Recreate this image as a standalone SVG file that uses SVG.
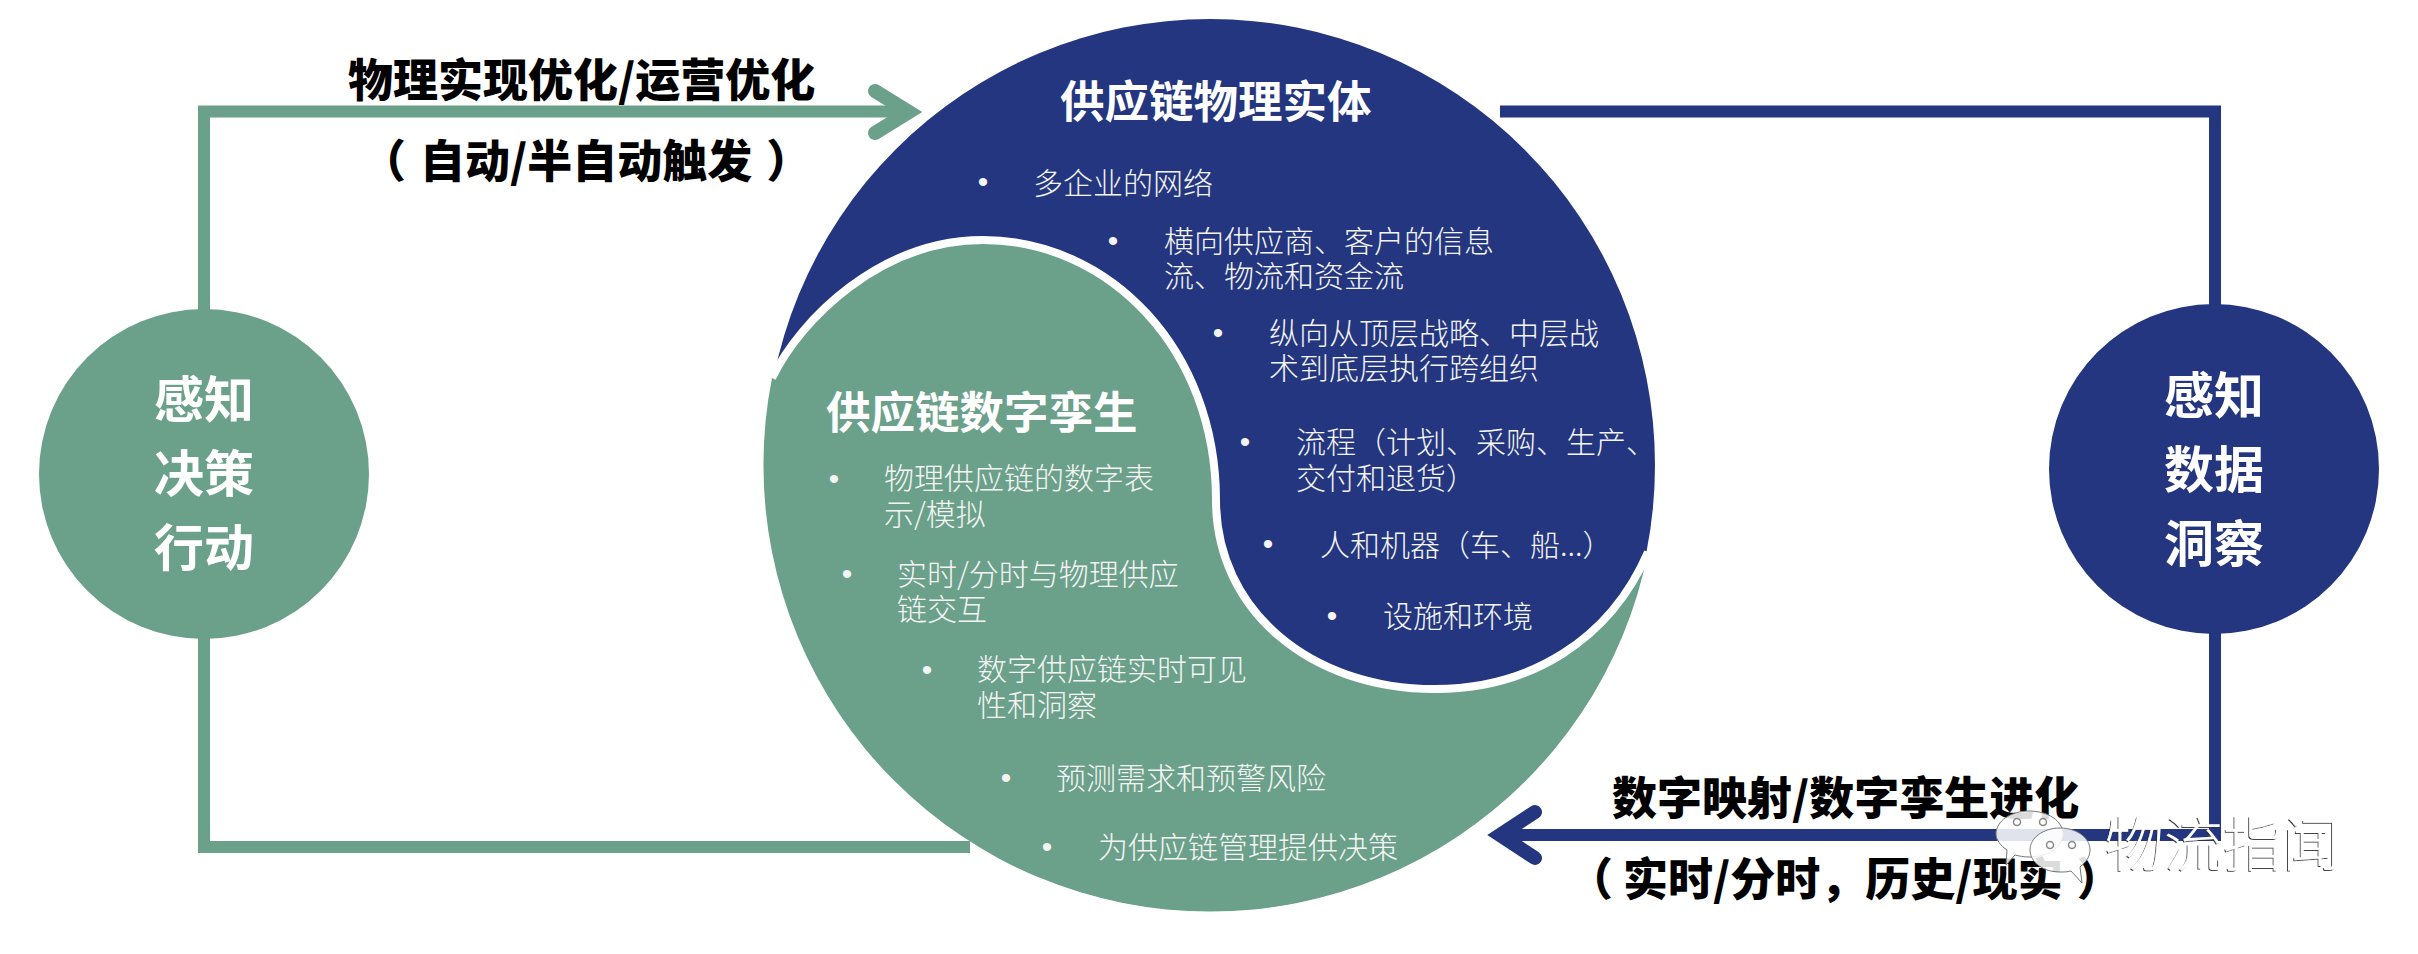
<svg xmlns="http://www.w3.org/2000/svg" width="2418" height="954" viewBox="0 0 2418 954">
<defs>
<filter id="wm" x="-5%" y="-5%" width="110%" height="110%"><feDropShadow dx="-1" dy="1" stdDeviation="0.5" flood-color="#333" flood-opacity="0.9"/></filter>
</defs>
<style>
text{font-family:"Noto Sans CJK SC","Noto Sans",sans-serif}
.lbl{font-size:45px;font-weight:900;fill:#000}
.ttl{font-size:44.5px;font-weight:700;fill:#fff}
.nod{font-size:50px;font-weight:700;fill:#fff;text-anchor:middle}
.it{font-size:30px;font-weight:300;fill:#f4f4f4}
.bu{font-size:30px;fill:#f4f4f4;text-anchor:middle;font-family:"Liberation Sans",sans-serif}
.g{fill:none;stroke:#6ba18a;stroke-width:12}
.b{fill:none;stroke:#23367f;stroke-width:12}
.h{stroke-width:14;stroke-linecap:round}
.wm{font-size:59px;font-weight:300;fill:#fff;filter:url(#wm)}
.bub{fill:#fff;fill-opacity:.86;stroke:#777;stroke-width:1}
.eye{fill:#fff;stroke:#888;stroke-width:1.5}
</style>
<g id="connectors">
<path class="g" d="M204 315V111.5H908"/>
<path class="g h" d="M875 91L909 112L875 133"/>
<path class="g" d="M204 630V847H970"/>
<path class="b" d="M1500 111.5H2215V310"/>
<path class="b" d="M2215 628V835H1502"/>
<path class="b h" d="M1535 812L1500 835L1535 858"/>
</g>
<g id="main-circle">
<ellipse cx="1210" cy="465" rx="445" ry="446" fill="#23367f"/>
<path fill="#6ba18a" d="M772 378C800 320 880 240 983 240C1110 240 1216 350 1216 500C1216 610 1310 689 1435 689C1530 689 1610 640 1648 552A446.5 446.5 0 0 1 772 378Z"/>
<path fill="none" stroke="#fff" stroke-width="8" d="M772 378C800 320 880 240 983 240C1110 240 1216 350 1216 500C1216 610 1310 689 1435 689C1530 689 1610 640 1648 552"/>
</g>
<g id="physical-entity">
<text class="ttl" x="1060" y="118">供应链物理实体</text>
<text class="bu" x="983" y="192">•</text><text class="it" x="1033" y="194">多企业的网络</text>
<text class="bu" x="1113" y="251">•</text><text class="it" x="1164" y="252">横向供应商、客户的信息</text><text class="it" x="1164" y="287">流、物流和资金流</text>
<text class="bu" x="1218" y="343">•</text><text class="it" x="1269" y="344">纵向从顶层战略、中层战</text><text class="it" x="1269" y="379">术到底层执行跨组织</text>
<text class="bu" x="1245" y="452">•</text><text class="it" x="1296" y="453">流程（计划、采购、生产、</text><text class="it" x="1296" y="489">交付和退货）</text>
<text class="bu" x="1268" y="554">•</text><text class="it" x="1320" y="556">人和机器（车、船...）</text>
<text class="bu" x="1332" y="626">•</text><text class="it" x="1383" y="627">设施和环境</text>
</g>
<g id="digital-twin">
<text class="ttl" x="826" y="429">供应链数字孪生</text>
<text class="bu" x="834" y="489">•</text><text class="it" x="884" y="489">物理供应链的数字表</text><text class="it" x="884" y="525">示/模拟</text>
<text class="bu" x="847" y="584">•</text><text class="it" x="897" y="585">实时/分时与物理供应</text><text class="it" x="897" y="620">链交互</text>
<text class="bu" x="927" y="680">•</text><text class="it" x="977" y="680">数字供应链实时可见</text><text class="it" x="977" y="716">性和洞察</text>
<text class="bu" x="1006" y="788">•</text><text class="it" x="1056" y="789">预测需求和预警风险</text>
<text class="bu" x="1047" y="857">•</text><text class="it" x="1098" y="858">为供应链管理提供决策</text>
</g>
<g id="node-left">
<circle cx="204" cy="474" r="165" fill="#6ba18a"/>
<text class="nod" x="204" y="418">感知</text><text class="nod" x="204" y="492">决策</text><text class="nod" x="204" y="566">行动</text>
</g>
<g id="node-right">
<circle cx="2214" cy="469" r="165" fill="#23367f"/>
<text class="nod" x="2214" y="414">感知</text><text class="nod" x="2214" y="488">数据</text><text class="nod" x="2214" y="562">洞察</text>
</g>
<g id="labels">
<text class="lbl" x="348" y="97">物理实现优化/运营优化</text>
<text class="lbl" x="361" y="178">（<tspan dx="14">自动/半自动触发</tspan><tspan dx="14">）</tspan></text>
<text class="lbl" x="1612" y="815">数字映射/数字孪生进化</text>
<text class="lbl" x="1568" y="896">（<tspan dx="10">实时/分时，历史/现实</tspan><tspan dx="14">）</tspan></text>
</g>
<g id="watermark">
<path class="bub" d="M2029 811C2048 811 2063 821 2063 834C2063 847 2048 857 2029 857C2024 857 2019 856 2015 855L2006 865L2007 850C2001 846 1996 840 1996 834C1996 821 2011 811 2029 811Z"/>
<circle class="eye" cx="2017" cy="822" r="3.5"/><circle class="eye" cx="2043" cy="822" r="3.5"/>
<path class="bub" d="M2060 828C2077 828 2090 838 2090 850C2090 857 2086 862 2080 867L2082 883L2071 871C2067 872 2064 872 2060 872C2043 872 2030 862 2030 850C2030 838 2043 828 2060 828Z"/>
<circle class="eye" cx="2050" cy="845" r="3.5"/><circle class="eye" cx="2072" cy="845" r="3.5"/>
<text class="wm" x="2105" y="866">物流指闻</text>
</g>
</svg>
